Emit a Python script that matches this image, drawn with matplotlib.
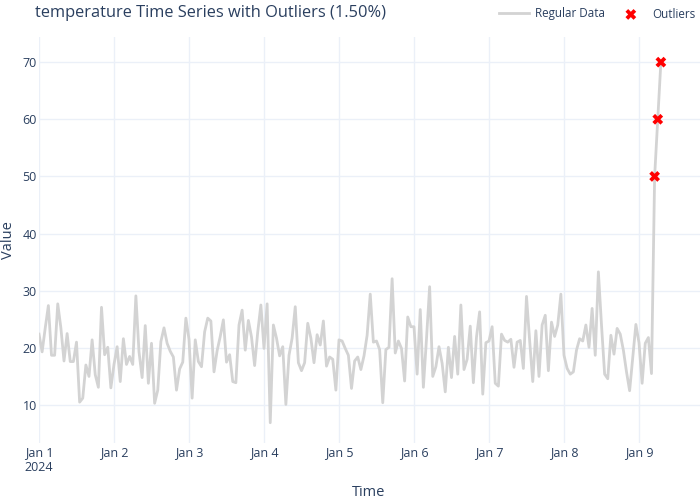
# Libraries:

import numpy as np
import pandas as pd
import matplotlib
matplotlib.use("Agg")
import matplotlib.pyplot as plt
import matplotlib.dates as mdates


# Data (hourly readings).

startTime = "2024-01-01 00:00"

values = [
    22.4, 19.3, 23.5, 27.4, 18.7, 18.7, 27.7, 23.5, 17.7, 22.5,
    17.6, 17.6, 21.0, 10.5, 11.2, 17.0, 15.0, 21.4, 15.3, 13.1,
    27.1, 18.8, 20.1, 13.0, 17.1, 20.2, 14.1, 21.6, 17.1, 18.5,
    17.1, 29.1, 19.3, 14.8, 23.9, 13.8, 20.8, 10.3, 12.6, 21.1,
    23.5, 20.8, 19.4, 18.4, 12.6, 16.3, 17.5, 25.2, 21.5, 11.2,
    21.4, 17.6, 16.7, 22.8, 25.2, 24.7, 15.8, 19.5, 22.0, 24.9,
    17.5, 18.8, 14.1, 13.9, 24.0, 26.6, 19.6, 24.8, 21.9, 16.9,
    22.8, 27.5, 19.9, 27.7, 6.9, 24.0, 21.7, 18.6, 20.2, 10.1,
    18.7, 21.7, 27.2, 17.4, 16.0, 17.4, 24.3, 21.7, 17.4, 22.3,
    20.5, 24.7, 16.8, 18.4, 18.0, 12.6, 21.4, 21.2, 19.9, 18.7,
    12.9, 17.7, 18.4, 16.2, 18.6, 22.2, 29.4, 21.0, 21.2, 19.7,
    10.4, 19.7, 20.1, 32.1, 19.1, 21.2, 19.9, 14.2, 25.4, 23.7,
    23.7, 15.4, 26.7, 13.1, 21.6, 30.7, 15.0, 16.7, 20.2, 17.3,
    12.3, 20.1, 14.8, 22.0, 15.4, 27.5, 16.2, 18.0, 23.8, 13.9,
    21.9, 26.3, 11.9, 20.9, 21.2, 23.7, 13.8, 13.3, 22.4, 21.3,
    21.0, 21.5, 16.6, 21.0, 21.3, 16.4, 29.0, 21.3, 14.1, 23.0,
    15.0, 24.0, 25.7, 16.0, 24.5, 22.0, 24.0, 29.4, 18.7, 16.4,
    15.4, 15.8, 19.6, 21.6, 21.2, 24.0, 20.1, 26.9, 18.7, 33.3,
    24.0, 15.4, 14.6, 22.2, 18.9, 23.4, 22.4, 19.6, 15.8, 12.5,
    18.3, 24.1, 20.9, 13.8, 20.8, 21.8, 15.5, 50.0, 60.0, 70.0,
]

outlierIndex = [197, 198, 199]  # Positions of the outliers in the series.

yTicks = [10, 20, 30, 40, 50, 60, 70]

times = pd.date_range(startTime, periods=len(values), freq="h")
values = np.array(values)


# Plotting.

plt.rcParams['font.family'] = ['Open Sans', 'DejaVu Sans']

textColor = "#2a3f5f"
gridColor = "#ebf0f8"

fig = plt.figure(figsize=(7, 5), dpi=100)
ax = fig.add_axes([39 / 700, 57 / 500, 661 / 700, 406 / 500])

ax.plot(times, values, color="#d3d3d3", linewidth=2, label="Regular Data", zorder=2)
ax.scatter(times[outlierIndex], values[outlierIndex], marker="X", s=60, color="#ff0000",
           edgecolors="none", label="Outliers", zorder=3)

# Axis limits (match the reference plot area).
t0 = mdates.date2num(pd.Timestamp(startTime))
ax.set_xlim(t0, t0 + 661 / 75)
ax.set_ylim(3.35, 74.4)

# Ticks.
dayTicks = pd.date_range(startTime, periods=9, freq="D")
ax.set_xticks(dayTicks)
ax.set_xticklabels([f"Jan {d.day}" + ("\n2024" if i == 0 else "") for i, d in enumerate(dayTicks)],
                   linespacing=1.15)
ax.set_yticks(yTicks)

ax.tick_params(axis="both", length=0, labelsize=9, colors=textColor)
ax.tick_params(axis="x", pad=2.5)
ax.tick_params(axis="y", pad=1.5)

# Grid and spines.
ax.grid(True, color=gridColor, linewidth=1)
ax.set_axisbelow(True)
for s in ax.spines.values():
    s.set_visible(False)

# Labels (placed by hand in figure pixels).
fig.text(369 / 700, 1 - 492 / 500, "Time", fontsize=10.5, color=textColor, ha="center", va="center")
fig.text(9 / 700, 1 - 240 / 500, "Value", fontsize=10.5, color=textColor, ha="center", va="center",
         rotation=90)
fig.text(35 / 700, 1 - 13 / 500, "temperature Time Series with Outliers (1.50%)",
         fontsize=11.75, color=textColor, ha="left", va="center")

# Legend (horizontal, top right).
leg = fig.legend(loc="center right", bbox_to_anchor=(1.008, 1 - 14 / 500), ncol=2, frameon=False,
                 fontsize=8.4, handlelength=2.6, columnspacing=0.9, handletextpad=0.5,
                 labelcolor=textColor)

plt.savefig("out.png", dpi=100)
plt.close()
